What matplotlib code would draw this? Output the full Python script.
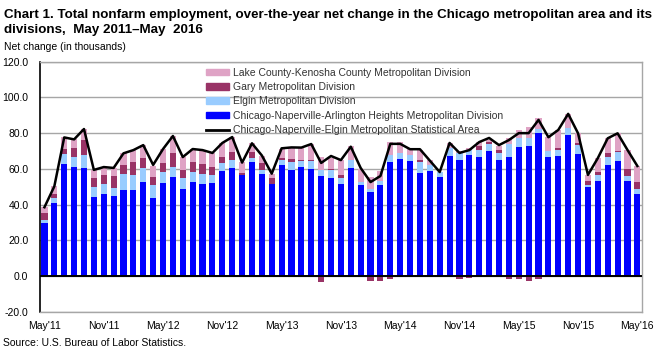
import numpy as np
import matplotlib
matplotlib.use("Agg")
from matplotlib import pyplot as plt
from matplotlib import font_manager
from matplotlib.patches import Patch
from matplotlib.lines import Line2D

# DATA (thousands, over-the-year net change), May 2011 - May 2016
chicago = [29.7, 40.9, 62.7, 61.0, 60.5, 44.2, 45.9, 44.8, 48.2, 48.2, 52.6, 43.7,
           52.1, 55.4, 48.7, 52.6, 51.5, 52.1, 58.8, 60.6, 56.8, 63.9, 57.3, 51.7,
           62.2, 59.4, 61.0, 59.9, 56.0, 54.9, 51.5, 60.5, 51.0, 47.0, 51.0, 63.9,
           65.4, 64.6, 57.9, 59.0, 55.6, 67.4, 64.9, 67.7, 66.6, 70.0, 64.9, 66.6,
           72.2, 72.8, 80.0, 66.8, 67.4, 79.1, 68.3, 50.0, 53.4, 62.2, 64.4, 53.4,
           45.9]
elgin = [1.7, 2.6, 5.6, 5.6, 7.2, 5.6, 5.6, 4.5, 8.9, 8.4, 7.9, 7.3,
         6.1, 5.6, 6.2, 5.6, 5.6, 4.5, 4.5, 4.4, 0.0, 2.4, 2.0, 0.0,
         2.7, 4.6, 3.6, 4.5, 3.4, 4.5, 3.4, 4.4, 1.6, 1.7, 2.2, 3.7,
         3.3, 3.0, 6.0, 3.4, 2.7, 4.3, 4.0, 2.8, 3.9, 3.9, 4.0, 7.3,
         5.1, 4.5, 2.2, 3.2, 3.2, 3.8, 5.1, 0.7, 3.2, 4.3, 5.2, 2.6,
         2.8]
gary = [3.9, 2.4, 2.8, 5.1, 8.4, 5.1, 5.1, 6.7, 5.1, 7.2, 5.6, 4.4,
        5.1, 7.9, 4.5, 5.6, 5.6, 4.4, 3.3, 4.6, 1.0, 3.4, 4.2, 3.4,
        1.0, 1.4, 0.6, 0.6, -3.2, 0.5, 1.7, 0.0, 0.0, -2.6, -2.6, -1.5,
        -0.8, 0.0, 1.1, 0.0, 0.0, 0.0, -1.5, -0.9, 2.3, 1.1, 1.6, -1.5,
        -1.5, -2.8, -1.5, 0.0, 1.1, 0.0, 1.3, 2.3, 1.8, 2.6, 0.6, 3.8,
        4.1]
lake = [3.3, 4.5, 6.5, 5.0, 6.2, 4.5, 4.2, 4.3, 6.5, 6.7, 7.2, 6.2,
        7.8, 9.5, 7.2, 7.3, 7.8, 7.9, 7.9, 8.4, 6.0, 4.9, 3.8, 2.2,
        5.1, 6.1, 6.4, 8.9, 7.2, 6.2, 8.3, 7.9, 7.3, 6.7, 5.6, 7.5,
        6.4, 3.4, 5.6, 2.6, 0.0, 2.8, 1.1, 1.2, 2.2, 1.1, 2.3, 3.4,
        4.4, 6.1, 6.2, 8.0, 10.1, 7.9, 5.2, 3.6, 7.5, 8.0, 9.7, 10.8,
        8.8]
msa = [38.5, 50.2, 77.6, 76.5, 82.3, 59.4, 61.0, 60.5, 68.7, 70.5, 73.3, 62.2,
       71.1, 78.4, 66.6, 71.1, 70.5, 68.9, 74.5, 77.8, 63.5, 74.3, 67.5, 57.3,
       71.5, 72.0, 71.9, 73.9, 63.3, 67.2, 64.9, 72.4, 60.5, 52.6, 56.0, 74.0,
       74.0, 71.0, 71.0, 64.6, 58.2, 74.5, 68.9, 70.5, 75.0, 77.3, 73.3, 76.1,
       80.0, 80.0, 87.4, 77.7, 81.8, 90.8, 79.9, 56.6, 66.0, 77.1, 79.9, 70.6,
       61.6]
tick_labels = ["May'11", "Nov'11", "May'12", "Nov'12", "May'13", "Nov'13",
               "May'14", "Nov'14", "May'15", "Nov'15", "May'16"]

names = ["Chicago-Naperville-Arlington Heights Metropolitan Division",
         "Elgin Metropolitan Division",
         "Gary Metropolitan Division",
         "Lake County-Kenosha County Metropolitan Division"]
line_name = "Chicago-Naperville-Elgin Metropolitan Statistical Area"
colors = ["#0000FF", "#99CCFF", "#993366", "#DFA3C5"]

# FONTS
plt.rcParams['font.family'] = ['Liberation Sans', 'DejaVu Sans']
have_narrow = any(f.name == 'Liberation Sans Narrow'
                  for f in font_manager.fontManager.ttflist)
title_family = ['Liberation Sans Narrow', 'Liberation Sans'] if have_narrow \
    else ['Liberation Sans', 'DejaVu Sans']

# SET PLOT
fig = plt.figure(figsize=(6.64, 3.53), dpi=100)
ax = fig.add_axes([0.0595, 0.117, 0.9078, 0.7082])

x = np.arange(len(chicago))
pos_bottom = np.zeros(len(x))
neg_bottom = np.zeros(len(x))
for vals, col in zip([chicago, elgin, gary, lake], colors):
    v = np.array(vals)
    bottom = np.where(v >= 0, pos_bottom, neg_bottom)
    ax.bar(x, v, 0.62, bottom=bottom, color=col, linewidth=0, zorder=2)
    pos_bottom += np.clip(v, 0, None)
    neg_bottom += np.clip(v, None, 0)

ax.plot(x, msa, color='black', lw=1.8, zorder=4)
ax.axhline(0, color='black', lw=1.4, zorder=3)

ax.set_xlim(-0.5, len(x) - 0.5)
ax.set_ylim(-20, 120)
ax.set_yticks(range(-20, 121, 20))
ax.set_yticklabels(["%.1f" % v for v in range(-20, 121, 20)])
ax.set_xticks(x[::6])
ax.set_xticklabels(tick_labels)
ax.tick_params(axis='both', length=0, labelsize=7.5, colors='black')
ax.tick_params(axis='y', pad=8)
ax.tick_params(axis='x', pad=7)
ax.yaxis.grid(True, color='#A6A6A6', lw=1)
ax.set_axisbelow(True)
for s in ['top', 'right', 'bottom']:
    ax.spines[s].set_color('#A6A6A6')
    ax.spines[s].set_linewidth(1)
ax.spines['left'].set_color('black')
ax.spines['left'].set_linewidth(1.2)

# LEGEND
handles = [Patch(color=colors[3]), Patch(color=colors[2]), Patch(color=colors[1]),
           Patch(color=colors[0]), Line2D([], [], color='black', lw=2)]
labels = [names[3], names[2], names[1], names[0], line_name]
ax.legend(handles, labels, loc='upper left', bbox_to_anchor=(0.268, 0.997),
          frameon=False, fontsize=7.5, labelcolor='#333333', borderpad=0,
          handlelength=2.2, handleheight=0.6, handletextpad=0.4,
          labelspacing=0.42)

# TITLES
line1 = ("Chart 1. Total nonfarm employment, over-the-year net change in the "
         "Chicago metropolitan area and its")
line2 = "divisions,  May 2011\u2013May  2016"
t1 = fig.text(0.006, 1 - 18 / 353, line1, family=title_family, fontsize=10.5,
              fontweight='bold', va='baseline')
renderer = fig.canvas.get_renderer()
w = t1.get_window_extent(renderer).width
size = 10.5 * 651.0 / w
t1.set_fontsize(size)
fig.text(0.006, 1 - 33 / 353, line2, family=title_family, fontsize=size,
         fontweight='bold', va='baseline')
fig.text(0.006, 1 - 46.5 / 353, "Net change (in thousands)", fontsize=7.5,
         va='center')
fig.text(0.005, 1 - 343 / 353, "Source: U.S. Bureau of Labor Statistics.",
         fontsize=7.5, va='center')

fig.savefig("out.png", dpi=100)
